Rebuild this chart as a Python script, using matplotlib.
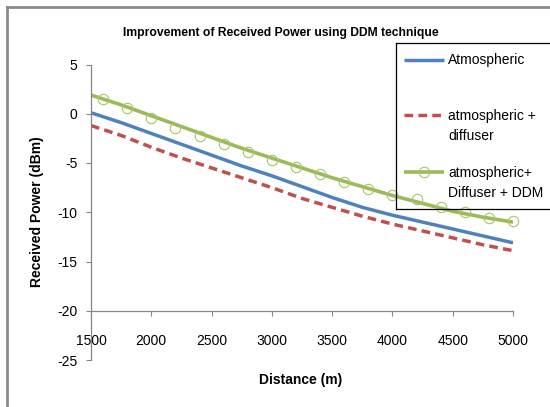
import numpy as np
import matplotlib
matplotlib.use("Agg")
import matplotlib.pyplot as plt
from matplotlib.lines import Line2D

plt.rcParams['font.family'] = ['Liberation Sans', 'DejaVu Sans']
plt.rcParams['axes.unicode_minus'] = False

# distance (m)
distance = [1500, 1750, 2000, 2250, 2500, 2750, 3000, 3250, 3500, 3750, 4000, 4250, 4500, 4750, 5000]
atmospheric = [0.1, -0.9, -2.0, -3.1, -4.2, -5.3, -6.3, -7.4, -8.5, -9.5, -10.3, -11.0, -11.7, -12.4, -13.1]
atm_diffuser = [-1.2, -2.2, -3.4, -4.5, -5.5, -6.5, -7.5, -8.6, -9.5, -10.4, -11.2, -11.9, -12.6, -13.3, -13.9]
atm_diff_ddm = [1.9, 0.9, -0.2, -1.3, -2.4, -3.5, -4.5, -5.5, -6.5, -7.4, -8.3, -9.1, -9.9, -10.5, -11.0]

# measured points for the DDM series (circles)
ddm_dist = [1600, 1800, 2000, 2200, 2400, 2600, 2800, 3000, 3200, 3400,
            3600, 3800, 4000, 4200, 4400, 4600, 4800, 5000]
ddm_points = [1.5, 0.6, -0.4, -1.4, -2.3, -3.1, -3.9, -4.7, -5.4, -6.1,
              -6.9, -7.6, -8.2, -8.7, -9.5, -10.0, -10.6, -10.9]

x_ticks = [1500, 2000, 2500, 3000, 3500, 4000, 4500, 5000]
y_ticks = [-25, -20, -15, -10, -5, 0, 5]

labels = ['Atmospheric', 'atmospheric +\ndiffuser', 'atmospheric+\nDiffuser + DDM']

blue = '#4F81BD'
red = '#C0504D'
green = '#9BBB59'
gray = '#868686'

W, H = 550, 407
fig = plt.figure(figsize=(W / 100, H / 100), dpi=100)

ax = fig.add_axes([91 / W, 47 / H, 422 / W, 295.5 / H])
ax.plot(distance, atmospheric, color=blue, lw=2.5, solid_capstyle='butt')
ax.plot(distance, atm_diffuser, color=red, lw=2.5, dashes=(2.5, 1.5))
ax.plot(distance, atm_diff_ddm, color=green, lw=2.6, solid_capstyle='butt')
ax.plot(ddm_dist, ddm_points, ls='none', marker='o', ms=7.5,
        mfc='none', mec='#A9C46C', mew=0.8, clip_on=False)

ax.set_xlim(1500, 5000)
ax.set_ylim(-25, 5)
ax.set_xticks(x_ticks)
ax.set_yticks(y_ticks)
ax.set_xticklabels([str(v) for v in x_ticks])
ax.set_yticklabels([str(v) for v in y_ticks])

ax.spines['top'].set_visible(False)
ax.spines['right'].set_visible(False)
ax.spines['bottom'].set_position(('data', -20))
for s in ['left', 'bottom']:
    ax.spines[s].set_color(gray)
    ax.spines[s].set_linewidth(0.9)
ax.tick_params(axis='x', direction='out', length=3.8, color=gray, pad=13, labelsize=10)
ax.tick_params(axis='y', direction='out', length=3.8, color=gray, pad=6, labelsize=10)

# titles
fig.text(281 / W, 1 - 33 / H, 'Improvement of Received Power using DDM technique',
         ha='center', va='center', fontsize=8.7, fontweight='bold')
fig.text(37 / W, 1 - 212 / H, 'Received Power (dBm)', rotation=90,
         ha='center', va='center', fontsize=10, fontweight='bold')
fig.text(301 / W, 1 - 380 / H, 'Distance (m)',
         ha='center', va='center', fontsize=10, fontweight='bold')

# legend box (drawn by hand, Excel style, transparent)
lax = fig.add_axes([396 / W, 1 - 209 / H, 160 / W, 166 / H])
lax.patch.set_facecolor('none')
lax.set_xlim(0, 160)
lax.set_ylim(166, 0)
lax.set_xticks([])
lax.set_yticks([])
for s in lax.spines.values():
    s.set_color('black')
    s.set_linewidth(0.9)
lax.plot([8, 48], [17, 17], color=blue, lw=2.5, solid_capstyle='butt')
lax.plot([8, 48], [72, 72], color=red, lw=2.5, dashes=(2.5, 1.5))
lax.plot([8, 48], [129, 129], color=green, lw=2.6, solid_capstyle='butt')
lax.plot([28], [129], marker='o', ms=7.5, mfc='none', mec='#A9C46C', mew=0.8)
lax.text(52, 17, labels[0], va='center', ha='left', fontsize=10)
lax.text(52, 83, labels[1], va='center', ha='left', fontsize=10, linespacing=1.6)
lax.text(52, 140, labels[2], va='center', ha='left', fontsize=10, linespacing=1.6)

# outer chart border (left and top visible)
fig.add_artist(Line2D([7 / W, 7 / W], [0, 1 - 7 / H], color='#8C8C8C', lw=2,
                      transform=fig.transFigure))
fig.add_artist(Line2D([7 / W, 1], [1 - 7 / H, 1 - 7 / H], color='#8C8C8C', lw=2,
                      transform=fig.transFigure))

fig.savefig('out.png', dpi=100, facecolor='white')
